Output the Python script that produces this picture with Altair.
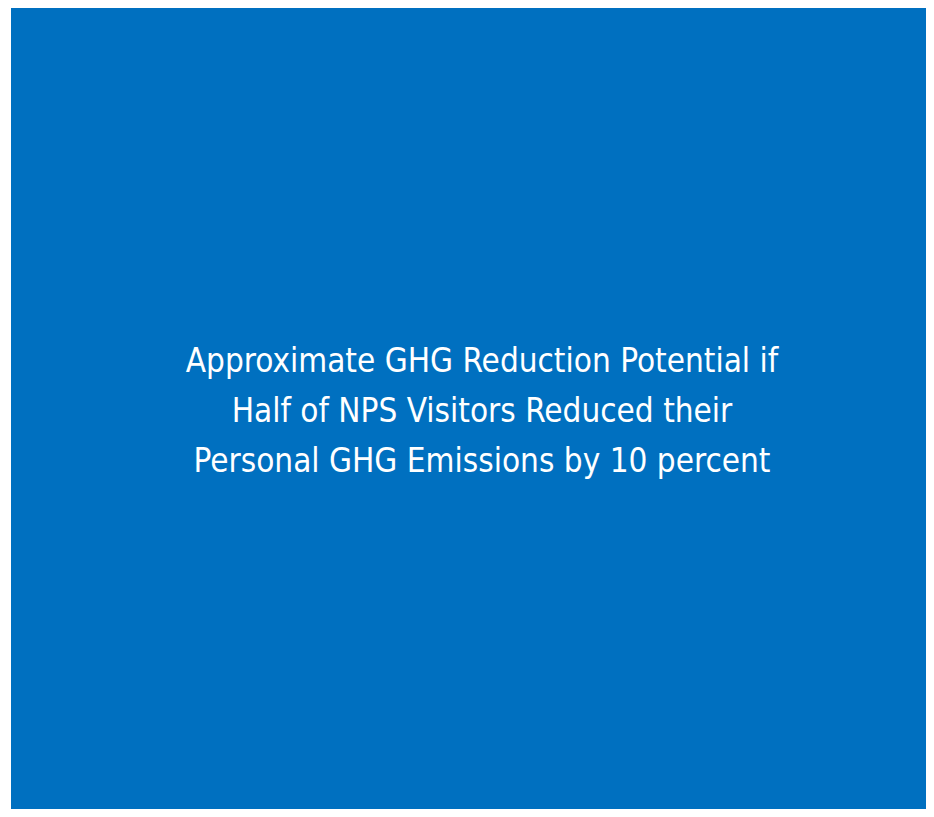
import altair as alt
import pandas as pd

lines = [
    "Approximate GHG Reduction Potential if",
    "Half of NPS Visitors Reduced their",
    "Personal GHG Emissions by 10 percent",
]
line_no = [1, 2, 3]

df = pd.DataFrame({"line": line_no, "text": lines})

chart = (
    alt.Chart(df)
    .mark_text(
        font="DejaVu Sans Condensed, Liberation Sans Narrow, sans-serif",
        fontSize=33,
        color="white",
        align="center",
        baseline="middle",
    )
    .encode(
        x=alt.value(471),
        y=alt.Y("line:Q", scale=alt.Scale(domain=[-6.08, 9.94], reverse=True), axis=None),
        text="text:N",
    )
    .properties(
        width=915,
        height=801,
        padding={"left": 3, "top": 0, "right": 0, "bottom": 0},
        autosize="none",
        background="white",
    )
    .configure_view(fill="#0070C0", strokeWidth=0)
)

chart.save("out.html", embed_options={"renderer": "svg", "actions": False})
